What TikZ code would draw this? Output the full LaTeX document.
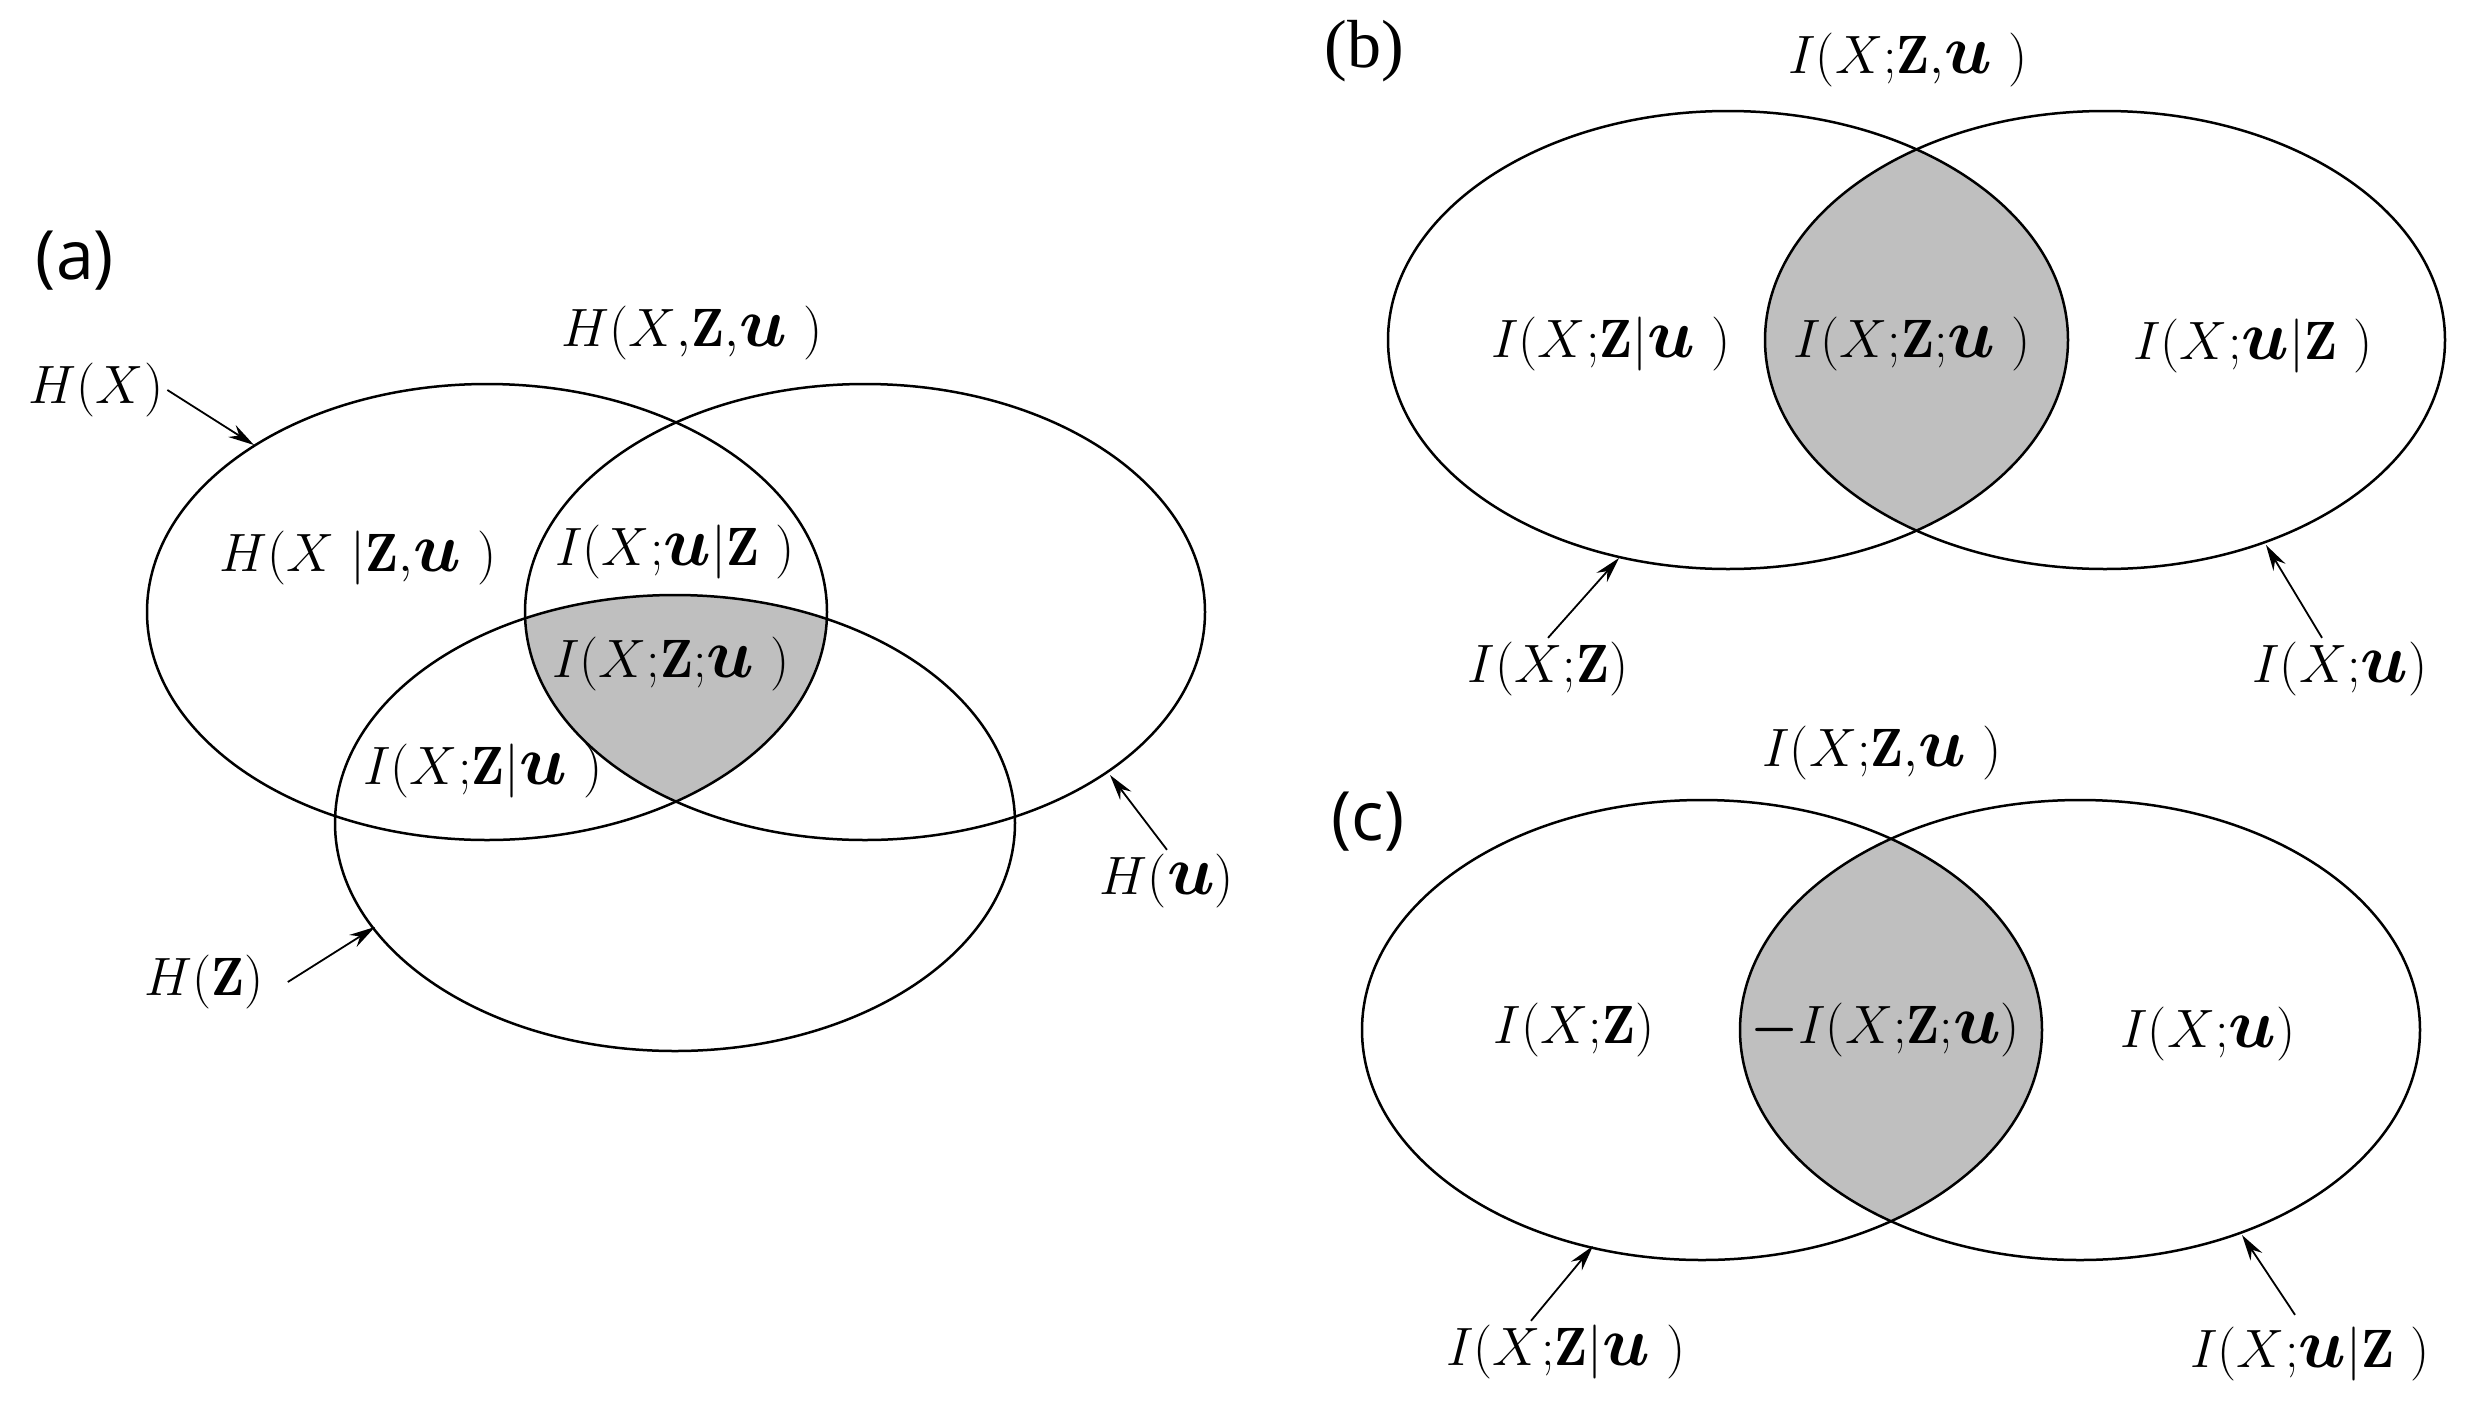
\RequirePackage{fix-cm}
\documentclass[tikz,border=0pt]{standalone}
\usepackage{fontspec}
\usepackage{bm}
\newfontfamily\lblsans{Open Sans}
\newfontfamily\lblserif{Liberation Serif}
\usetikzlibrary{arrows.meta}
\definecolor{lensgray}{RGB}{191,191,191}
\newcommand{\uu}{\scalebox{1.3}{$\bm{u}$}}
\newcommand{\ZZ}{\mathbf{Z}}
\newcommand{\smc}{\mathord{;}}
\newcommand{\cmm}{\mathord{,}}
\tikzset{
  lbl/.style={inner sep=4pt, font=\fontsize{54}{60}\selectfont},
  panel/.style={inner sep=4pt, font=\fontsize{68}{72}\selectfont},
  venn/.style={line width=2.5pt},
  arr/.style={line width=1.8pt, -{Stealth[length=26pt,width=14pt]}},
}
\begin{document}
\begin{tikzpicture}[x=1pt,y=-1pt]
\useasboundingbox (0,0) rectangle (2471,1419);
% ---------- (a) ----------
\begin{scope}
  \clip (487,612) ellipse [x radius=340, y radius=228];
  \clip (865,612) ellipse [x radius=340, y radius=228];
  \fill[lensgray] (675,823) ellipse [x radius=340, y radius=228];
\end{scope}
\draw[venn] (487,612) ellipse [x radius=340, y radius=228];
\draw[venn] (865,612) ellipse [x radius=340, y radius=228];
\draw[venn] (675,823) ellipse [x radius=340, y radius=228];
\node[panel] (la) at (75,261) {\lblsans (a)};
\node[lbl] (hxzu) at (692,333) {$H(X\cmm\ZZ\cmm\uu\ )$};
\node[lbl] (hx) at (96,390) {$H(X)$};
\node[lbl] (hxgzu) at (358,558) {$H(X\ |\ZZ\cmm\uu\ )$};
\node[lbl] (ixugz) at (675,552) {$I(X\smc\uu|\ZZ\ )$};
\node[lbl] (ixzu3) at (671,664) {$I(X\smc\ZZ\smc\uu\ )$};
\node[lbl] (ixzgu) at (483,771) {$I(X\smc\ZZ|\uu\ )$};
\node[lbl] (hu) at (1167,881) {$H(\uu)$};
\node[lbl] (hz) at (204,982) {$H(\ZZ)$};
\coordinate (hxp) at (254,445);
\coordinate (hup) at (1110,775);
\coordinate (hzp) at (375,927);
\draw[arr] (hx.east) -- (hxp);
\draw[arr] (hu.north) -- (hup);
\draw[arr] ([xshift=20pt]hz.east) -- (hzp);
% ---------- (b) ----------
\begin{scope}
  \clip (1728,340) ellipse [x radius=340, y radius=229];
  \fill[lensgray] (2105,340) ellipse [x radius=340, y radius=229];
\end{scope}
\draw[venn] (1728,340) ellipse [x radius=340, y radius=229];
\draw[venn] (2105,340) ellipse [x radius=340, y radius=229];
\node[panel] (lb) at (1364,51) {\lblserif (b)};
\node[lbl] (bixzu) at (1908,60) {$I(X\smc\ZZ\cmm\uu\ )$};
\node[lbl] (bixzgu) at (1611,344) {$I(X\smc\ZZ|\uu\ )$};
\node[lbl] (bixzu3) at (1912,344) {$I(X\smc\ZZ\smc\uu\ )$};
\node[lbl] (bixugz) at (2253,346) {$I(X\smc\uu|\ZZ\ )$};
\node[lbl] (bixz) at (1548,669) {$I(X\smc\ZZ)$};
\node[lbl] (bixu) at (2340,669) {$I(X\smc\uu)$};
\coordinate (bixzp) at (1619,558);
\coordinate (bixup) at (2266,545);
\draw[arr] (bixz.north) -- (bixzp);
\draw[arr] ([xshift=-18pt]bixu.north) -- (bixup);
% ---------- (c) ----------
\begin{scope}
  \clip (1702,1030) ellipse [x radius=340, y radius=230];
  \fill[lensgray] (2080,1030) ellipse [x radius=340, y radius=230];
\end{scope}
\draw[venn] (1702,1030) ellipse [x radius=340, y radius=230];
\draw[venn] (2080,1030) ellipse [x radius=340, y radius=230];
\node[panel] (lc) at (1368,822) {\lblsans (c)};
\node[lbl] (cixzu) at (1882,753) {$I(X\smc\ZZ\cmm\uu\ )$};
\node[lbl] (cixz) at (1574,1030) {$I(X\smc\ZZ)$};
\node[lbl] (cixzu3) at (1885,1030) {$\bm{-}I(X\smc\ZZ\smc\uu)$};
\node[lbl] (cixu) at (2208,1034) {$I(X\smc\uu)$};
\node[lbl] (cixzgu) at (1566,1352) {$I(X\smc\ZZ|\uu\ )$};
\node[lbl] (cixugz) at (2310,1354) {$I(X\smc\uu|\ZZ\ )$};
\coordinate (cixzgup) at (1593,1246);
\coordinate (cixugzp) at (2242,1235);
\draw[arr] ([xshift=-35pt]cixzgu.north) -- (cixzgup);
\draw[arr] ([xshift=-15pt,yshift=8pt]cixugz.north) -- (cixugzp);
\end{tikzpicture}
\end{document}
